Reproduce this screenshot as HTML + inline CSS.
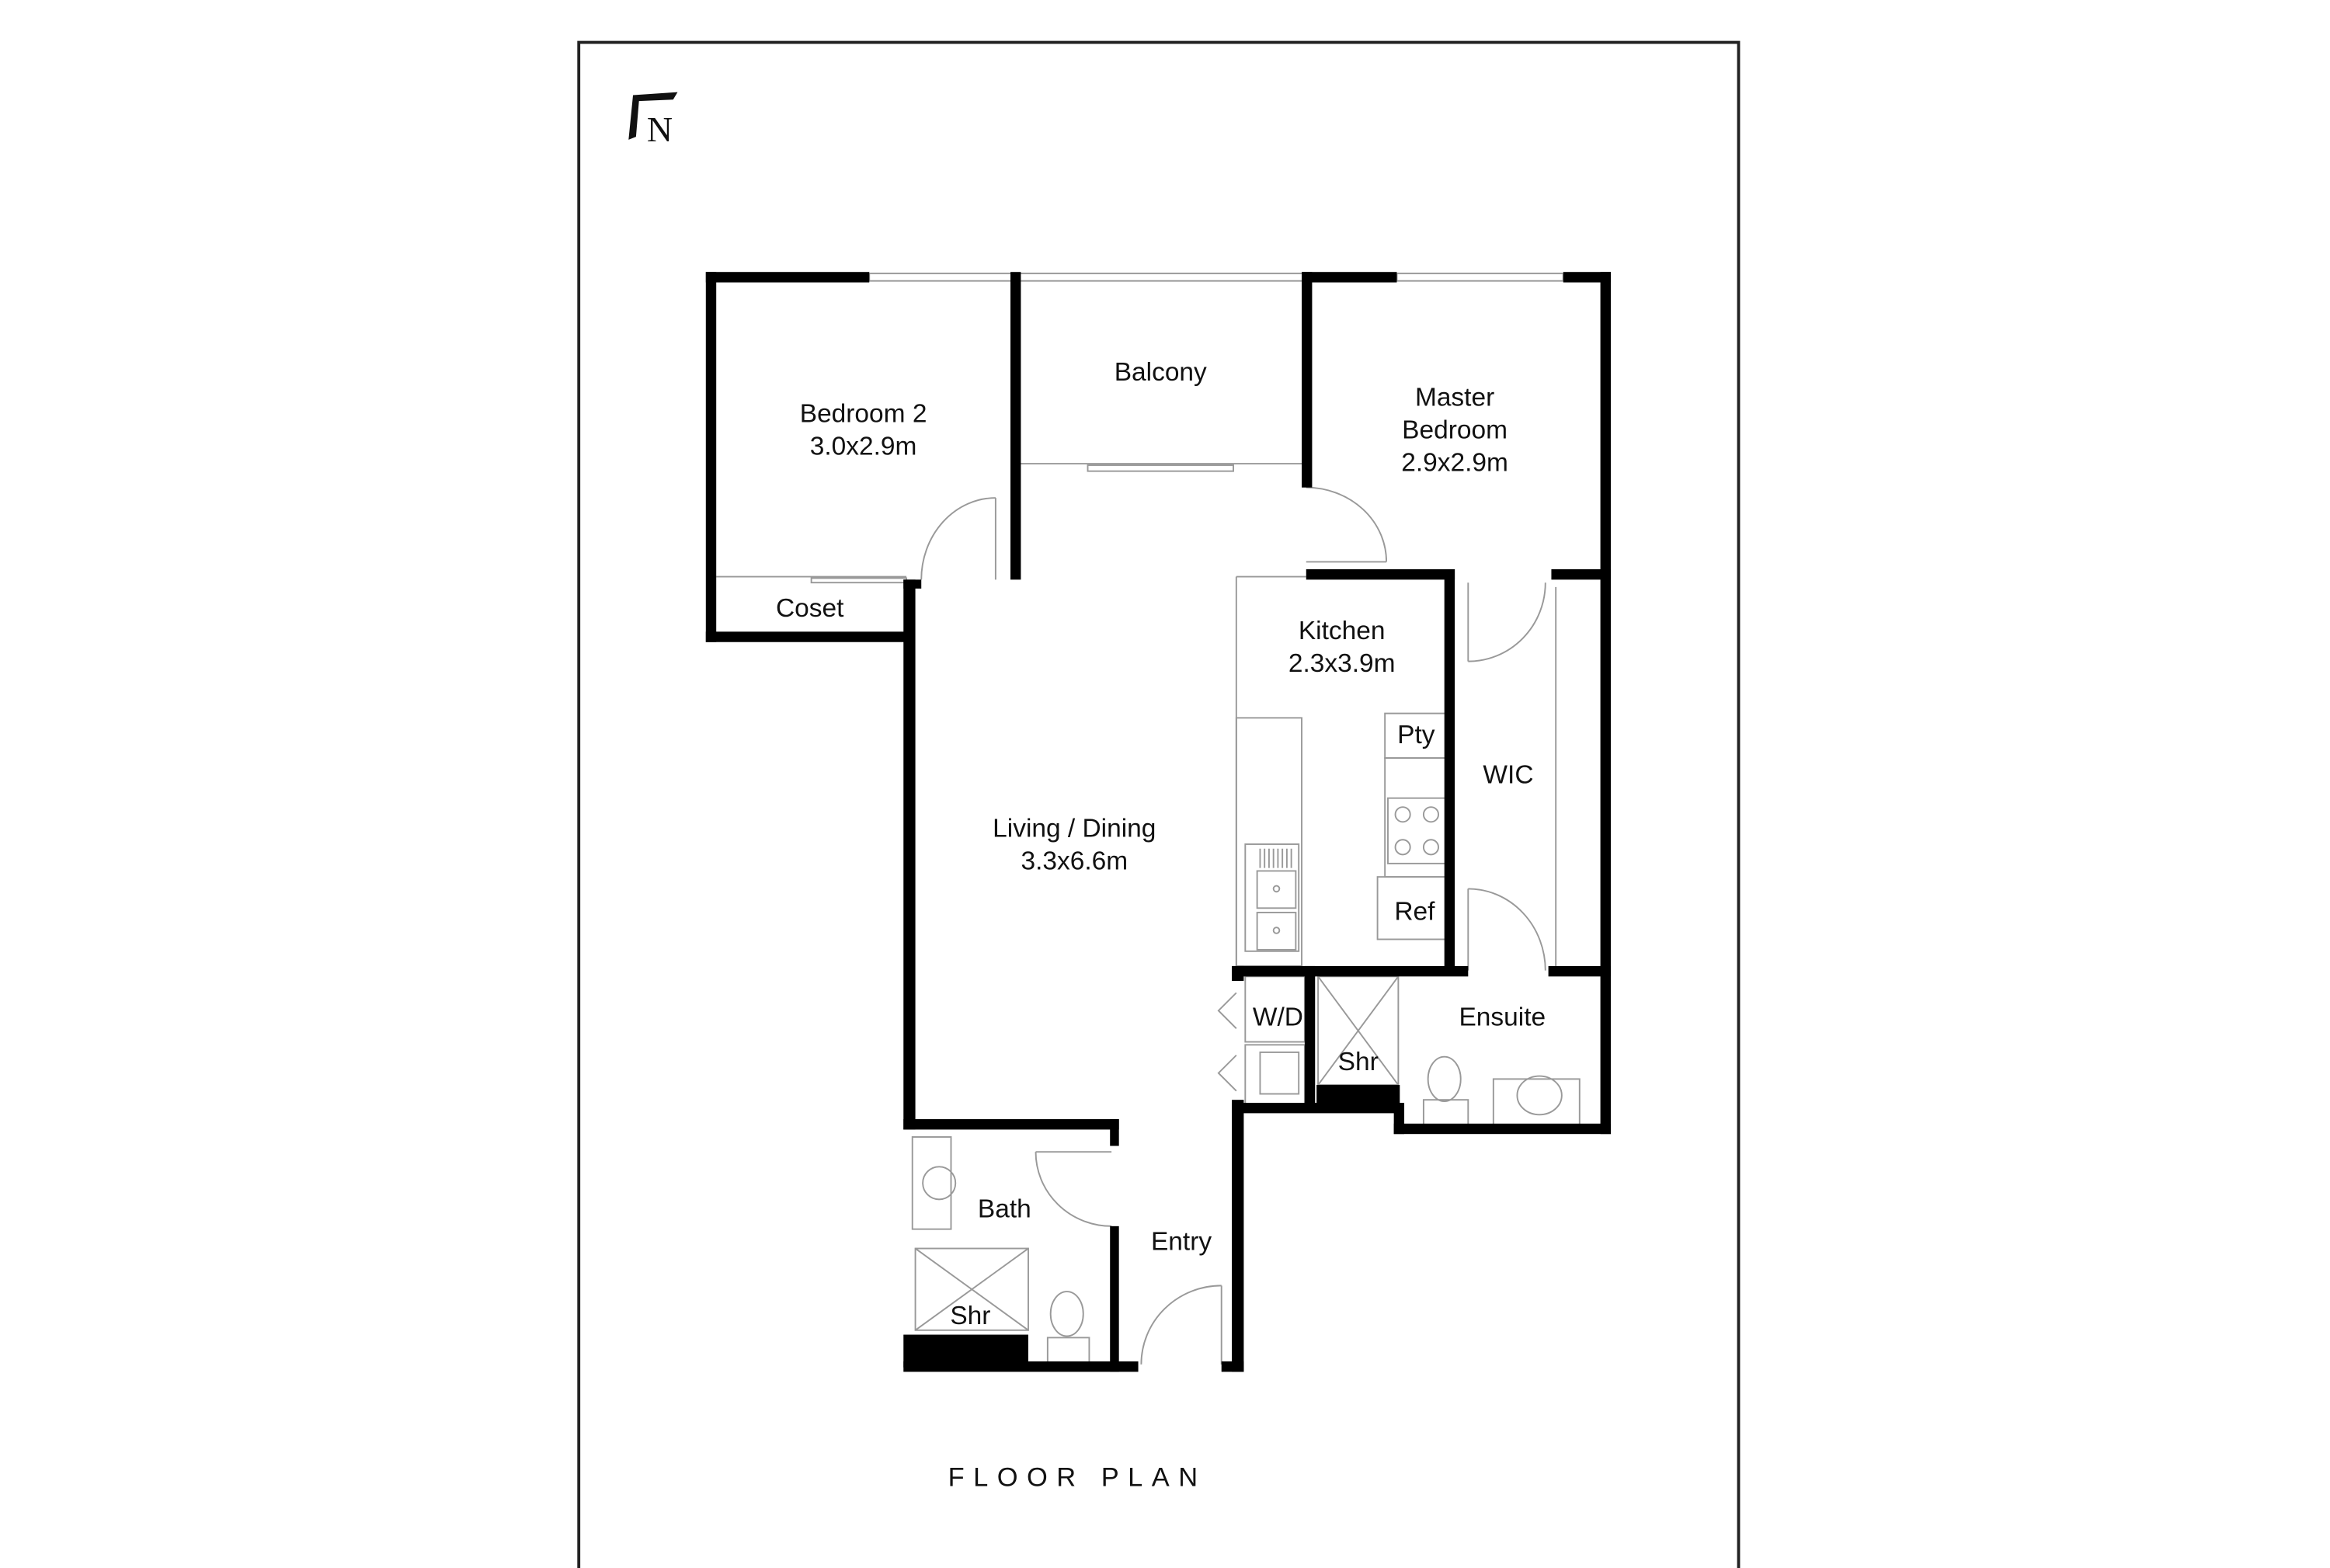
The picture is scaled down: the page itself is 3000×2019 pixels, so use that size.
<!DOCTYPE html>
<html><head><meta charset="utf-8"><style>
html,body{margin:0;padding:0;background:#fff;width:3000px;height:2019px;overflow:hidden}
svg{display:block}
text{font-family:"Liberation Sans",sans-serif;fill:#111}
</style></head><body>
<svg width="3000" height="2019" viewBox="0 0 1568 1055" preserveAspectRatio="none" xmlns="http://www.w3.org/2000/svg">
<rect width="1568" height="1055" fill="#fff"/>
<path d="M389.5 1055 V28.5 H1170 V1055" fill="none" stroke="#222" stroke-width="2"/>
<path d="M423 94 L426 64 L456 62 L453 67 L430 68 L428 92 Z" fill="#111"/>
<text x="444" y="95" font-size="24" text-anchor="middle" style="font-family:'Liberation Serif',serif">N</text>

<g fill="none" stroke="#999" stroke-width="1">
<rect x="585" y="184" width="97" height="5"/>
<rect x="686" y="184" width="191" height="5"/>
<rect x="940" y="184" width="112" height="5"/>
<line x1="686" y1="312" x2="877" y2="312"/>
<rect x="732" y="313" width="98" height="4"/>
<line x1="482" y1="388" x2="610" y2="388"/>
<rect x="546" y="389" width="64" height="3"/>
<line x1="832" y1="388" x2="879" y2="388"/>
<line x1="832" y1="388" x2="832" y2="650"/>
<rect x="832" y="483" width="44" height="167"/>
<rect x="838" y="568" width="36" height="72"/>
<rect x="846" y="586" width="26" height="25"/>
<rect x="846" y="614" width="26" height="25"/>
<path d="M848 571 V584 M851 571 V584 M854 571 V584 M857 571 V584 M860 571 V584 M863 571 V584 M866 571 V584 M869 571 V584"/>
<circle cx="859" cy="598" r="2"/><circle cx="859" cy="626" r="2"/>
<rect x="932" y="480" width="43" height="30"/>
<rect x="932" y="510" width="43" height="80"/>
<rect x="934" y="537" width="39" height="44"/>
<circle cx="944" cy="548" r="5"/><circle cx="963" cy="548" r="5"/>
<circle cx="944" cy="570" r="5"/><circle cx="963" cy="570" r="5"/>
<rect x="927" y="590" width="48" height="42"/>
<line x1="1047" y1="395" x2="1047" y2="650"/>
<rect x="838" y="657" width="40" height="44"/>
<rect x="838" y="703" width="40" height="40"/>
<rect x="848" y="708" width="26" height="28"/>
<path d="M832 668 L820 680 L832 692 M832 710 L820 722 L832 734"/>
<rect x="887" y="657" width="54" height="73"/>
<path d="M887 657 L941 730 M941 657 L887 730"/>
<rect x="1005" y="726" width="58" height="32"/>
<ellipse cx="1036" cy="737" rx="15" ry="13"/>
<ellipse cx="972" cy="726" rx="11" ry="15"/>
<rect x="958" y="740" width="30" height="18"/>
<rect x="614" y="765" width="26" height="62"/>
<circle cx="632" cy="796" r="11"/>
<rect x="616" y="840" width="76" height="55"/>
<path d="M616 840 L692 895 M692 840 L616 895"/>
<ellipse cx="718" cy="884" rx="11" ry="15"/>
<rect x="705" y="900" width="28" height="18"/>
<line x1="670" y1="335" x2="670" y2="390"/><path d="M620 390 A50 55 0 0 1 670 335"/>
<line x1="879" y1="378" x2="933" y2="378"/><path d="M879 328 A54 50 0 0 1 933 378"/>
<line x1="988" y1="392" x2="988" y2="445"/><path d="M988 445 A52 53 0 0 0 1040 392"/>
<line x1="988" y1="598" x2="988" y2="653"/><path d="M988 598 A52 55 0 0 1 1040 653"/>
<line x1="697" y1="775" x2="748" y2="775"/><path d="M697 775 A51 50 0 0 0 748 825"/>
<line x1="822" y1="865" x2="822" y2="918"/><path d="M768 918 A54 53 0 0 1 822 865"/>
</g>

<g fill="#000">
<rect x="475" y="183" width="110" height="7"/>
<rect x="475" y="183" width="7" height="249"/>
<rect x="475" y="425" width="137" height="7"/>
<rect x="680" y="183" width="7" height="207"/>
<rect x="608" y="390" width="8" height="370"/>
<rect x="608" y="390" width="12" height="6"/>
<rect x="876" y="183" width="64" height="7"/>
<rect x="876" y="183" width="7" height="145"/>
<rect x="1052" y="183" width="32" height="7"/>
<rect x="1077" y="183" width="7" height="580"/>
<rect x="879" y="383" width="100" height="7"/>
<rect x="1044" y="383" width="40" height="7"/>
<rect x="972" y="383" width="7" height="272"/>
<rect x="829" y="650" width="159" height="7"/>
<rect x="1042" y="650" width="42" height="7"/>
<rect x="829" y="650" width="8" height="10"/>
<rect x="878" y="650" width="7" height="98"/>
<rect x="829" y="742" width="112" height="7"/>
<rect x="829" y="740" width="8" height="183"/>
<rect x="938" y="742" width="7" height="21"/>
<rect x="938" y="756" width="146" height="7"/>
<rect x="886" y="730" width="56" height="18"/>
<rect x="608" y="753" width="145" height="7"/>
<rect x="747" y="753" width="6" height="18"/>
<rect x="747" y="825" width="6" height="98"/>
<rect x="608" y="916" width="158" height="7"/>
<rect x="822" y="916" width="15" height="7"/>
<rect x="608" y="898" width="84" height="22"/>
</g>

<g font-size="17.5" text-anchor="middle">
<text x="581" y="284">Bedroom 2</text><text x="581" y="306">3.0x2.9m</text>
<text x="781" y="256">Balcony</text>
<text x="979" y="273">Master</text><text x="979" y="295">Bedroom</text><text x="979" y="317">2.9x2.9m</text>
<text x="545" y="415">Coset</text>
<text x="903" y="430">Kitchen</text><text x="903" y="452">2.3x3.9m</text>
<text x="953" y="500">Pty</text>
<text x="1015" y="527">WIC</text>
<text x="723" y="563">Living / Dining</text><text x="723" y="585">3.3x6.6m</text>
<text x="952" y="619">Ref</text>
<text x="860" y="690">W/D</text>
<text x="1011" y="690">Ensuite</text>
<text x="914" y="720">Shr</text>
<text x="676" y="819">Bath</text>
<text x="795" y="841">Entry</text>
<text x="653" y="891">Shr</text>
</g>
<text x="725" y="1000" font-size="18" text-anchor="middle" letter-spacing="6">FLOOR PLAN</text>
</svg>
</body></html>
